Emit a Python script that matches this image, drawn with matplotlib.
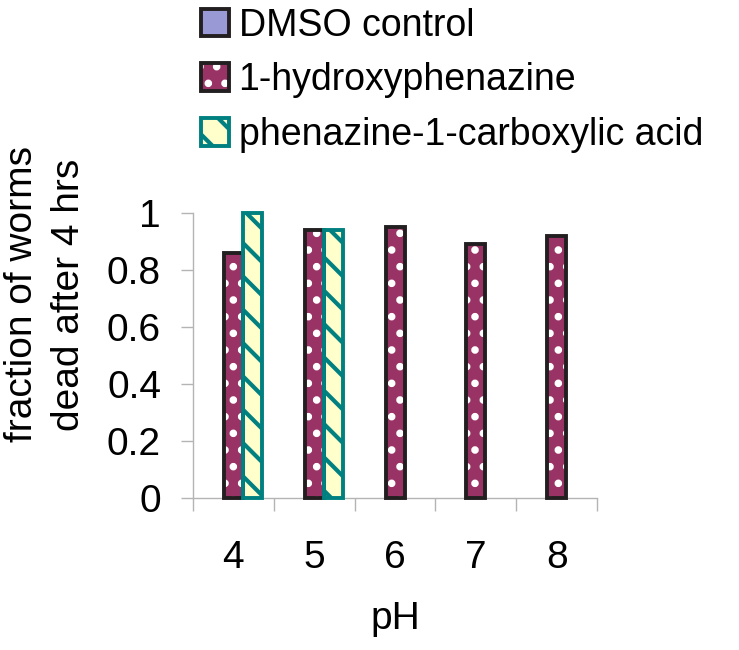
import numpy as np
import matplotlib
matplotlib.use("Agg")
import matplotlib.pyplot as plt
from matplotlib.patches import Patch
from matplotlib.legend_handler import HandlerTuple

plt.rcParams["font.family"] = ["Liberation Sans", "DejaVu Sans"]
plt.rcParams["hatch.linewidth"] = 3.0

# ── Data ────────────────────────────────────────────────────────────────────
PH = ["4", "5", "6", "7", "8"]
DMSO = [0.0, 0.0, 0.0, 0.0, 0.0]
HYDROXY = [0.86, 0.94, 0.95, 0.89, 0.92]
PCA = [1.0, 0.94, np.nan, np.nan, np.nan]

SERIES = [
    ("DMSO control", DMSO),
    ("1-hydroxyphenazine", HYDROXY),
    ("phenazine-1-carboxylic acid", PCA),
]

# ── Styles ──────────────────────────────────────────────────────────────────
DARK = "#231F20"
STYLE = {
    "DMSO control": dict(face="#9999D6", hatch=None, hatch_col=None, edge=DARK),
    "1-hydroxyphenazine": dict(face="#993366", hatch=".", hatch_col="white", edge=DARK),
    "phenazine-1-carboxylic acid": dict(face="#FFFFCC", hatch="\\", hatch_col="#008080",
                                        edge="#008080"),
}
EDGE_LW = 2.8
GRAY = "#B4B4B4"
FS = 28
FS_LEG = 27

fig = plt.figure(figsize=(7.39, 6.5), dpi=100)
ax = fig.add_axes([0.2612, 0.2338, 0.5467, 0.4385])

x = np.arange(len(PH))
w = 0.235
handles = []
for i, (name, vals) in enumerate(SERIES):
    st = STYLE[name]
    vals = np.asarray(vals, dtype=float)
    keep = np.isfinite(vals) & (vals > 0)
    xs = x[keep] + (i - 1) * w
    hs = vals[keep]
    if len(hs):
        # fill + hatch (hatch takes the edge colour, so edge width is 0)
        ax.bar(xs, hs, width=w, color=st["face"],
               edgecolor=st["hatch_col"] or st["face"], linewidth=0,
               hatch=st["hatch"], zorder=2, clip_on=False)
        # outline
        ax.bar(xs, hs, width=w, fill=False, edgecolor=st["edge"],
               linewidth=EDGE_LW, zorder=3, clip_on=False)
    p1 = Patch(facecolor=st["face"], edgecolor=st["hatch_col"] or st["face"],
               linewidth=0, hatch=st["hatch"])
    p2 = Patch(fill=False, edgecolor=st["edge"], linewidth=EDGE_LW)
    handles.append((p1, p2))

ax.set_xlim(-0.5, len(PH) - 0.5)
ax.set_ylim(0, 1)

for s in ["top", "right"]:
    ax.spines[s].set_visible(False)
for s in ["left", "bottom"]:
    ax.spines[s].set_color(GRAY)
    ax.spines[s].set_linewidth(1.0)

ax.set_yticks(np.arange(0, 1.01, 0.2))
ax.set_yticklabels(["0", "0.2", "0.4", "0.6", "0.8", "1"])
ax.tick_params(axis="y", direction="out", length=9, width=1.0, color=GRAY,
               labelsize=FS, pad=14)

ax.set_xticks(x)
ax.set_xticklabels(PH)
ax.set_xticks(np.arange(-0.5, len(PH)), minor=True)
ax.tick_params(axis="x", which="major", length=0, labelsize=FS, pad=30)
ax.tick_params(axis="x", which="minor", direction="out", length=9, width=1.0,
               color=GRAY)

ax.set_xlabel("pH", fontsize=FS, labelpad=18)
fig.text(0.0616, 0.547, "fraction of worms\ndead after 4 hrs", rotation=90,
         ha="center", va="center", fontsize=FS, linespacing=1.36,
         multialignment="center")

fig.legend(handles=handles, labels=[n for n, _ in SERIES],
           handler_map={tuple: HandlerTuple(ndivide=1)},
           loc="upper left", bbox_to_anchor=(0.262, 1.0), frameon=False,
           fontsize=FS_LEG, handlelength=0.75, handleheight=0.75,
           handletextpad=0.25, labelspacing=0.5, borderpad=0.2,
           borderaxespad=0)

fig.savefig("out.png", dpi=100)
